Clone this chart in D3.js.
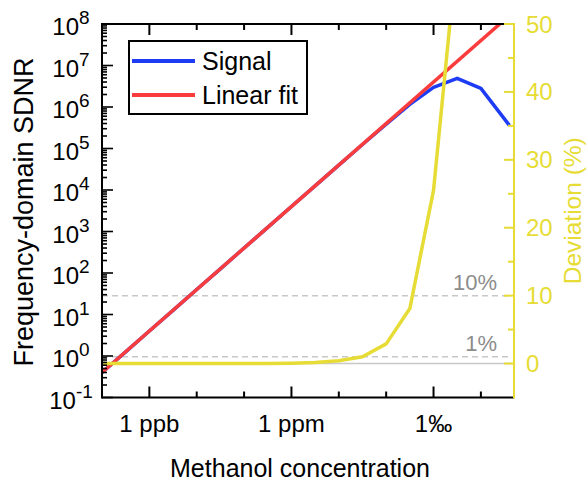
<!DOCTYPE html>
<html lang="en">
<head>
    <meta charset="UTF-8">
    <title>SDNR vs methanol concentration</title>
    <script src="https://d3js.org/d3.v7.min.js"></script>
    <style>
        body { margin: 0; background: #fff; }
        svg { display: block; font-family: "Liberation Sans", Arial, sans-serif; }
    </style>
</head>
<body>
    <div id="graph"></div>
    <script>
        // data
        const concentration = [1e-10, 3.16e-10, 1e-9, 3.16e-9, 1e-8, 3.16e-8, 1e-7, 3.16e-7, 1e-6,
            3.16e-6, 1e-5, 3.16e-5, 1e-4, 3.16e-4, 1e-3, 3.16e-3, 1e-2, 4e-2]
        const signal = [0.4, 1.26, 4, 12.6, 40, 126, 400, 1260, 4000,
            12600, 39900, 125000, 388000, 1.16e6, 2.98e6, 4.9e6, 2.8e6, 3.6e5]
        const deviation = [0, 0, 0, 0, 0, 0, 0, 0, 0.05,
            0.15, 0.4, 1.0, 2.9, 8.1, 25.5, 61, 93, 99]
        const fitConcentration = [1e-10, 0.05]
        const fitValue = [0.4, 2e8]

        const xTickValues = [1e-9, 1e-6, 1e-3]
        const xTickLabels = ["1 ppb", "1 ppm", "1‰"]
        const yExponents = [-1, 0, 1, 2, 3, 4, 5, 6, 7, 8]
        const devTicks = [0, 10, 20, 30, 40, 50]
        const refLevels = [1, 10]
        const refLabels = ["1%", "10%"]
        const legendNames = ["Signal", "Linear fit"]

        const width = 588, height = 482
        const margin = {left: 102, right: 74, top: 24, bottom: 84.5}
        const blue = "#1f3cf5", red = "#fa3c3c", yellow = "#e6dc35", grey = "#c8c8c8"

        var svg = d3.select("#graph").append("svg")
            .attr("width", width)
            .attr("height", height)

        var x = d3.scaleLog()
            .domain([1e-10, 0.05])
            .range([margin.left, width - margin.right])

        var y = d3.scaleLog()
            .domain([0.1, 1e8])
            .range([height - margin.bottom, margin.top])

        var y2 = d3.scaleLinear()
            .domain([-5, 50])
            .range([height - margin.bottom, margin.top])

        const x0 = x.range()[0], x1 = x.range()[1]
        const yb = y.range()[0], yt = y.range()[1]

        svg.append("clipPath").attr("id", "plot-clip")
            .append("rect")
                .attr("x", x0).attr("y", yt)
                .attr("width", x1 - x0).attr("height", yb - yt)

        // reference lines for the deviation axis
        svg.append("line")
            .attr("x1", x0).attr("x2", x1 - 2)
            .attr("y1", y2(0)).attr("y2", y2(0))
            .attr("stroke", grey).attr("stroke-width", 1.5)

        svg.selectAll("line.ref").data(refLevels).enter()
            .append("line")
                .attr("class", "ref")
                .attr("x1", x0).attr("x2", x1 - 2)
                .attr("y1", d => y2(d)).attr("y2", d => y2(d))
                .attr("stroke", grey).attr("stroke-width", 1.5)
                .attr("stroke-dasharray", "6,4")

        svg.selectAll("text.ref").data(refLevels).enter()
            .append("text")
                .attr("class", "ref")
                .attr("x", 497)
                .attr("y", d => y2(d) - 6)
                .attr("text-anchor", "end")
                .attr("fill", "#8c8c8c")
                .style("font-size", "22px")
                .text((d, i) => refLabels[i])

        var plot = svg.append("g").attr("clip-path", "url(#plot-clip)")

        var logLine = d3.line()
            .x(d => x(d[0]))
            .y(d => y(d[1]))

        plot.append("path")
            .datum(concentration.map((c, i) => [c, signal[i]]))
            .attr("d", logLine)
            .attr("fill", "none").attr("stroke", blue)
            .attr("stroke-width", 3.5).attr("stroke-linejoin", "round")

        plot.append("path")
            .datum(fitConcentration.map((c, i) => [c, fitValue[i]]))
            .attr("d", logLine)
            .attr("fill", "none").attr("stroke", red)
            .attr("stroke-width", 3.5)

        plot.append("path")
            .datum(concentration.map((c, i) => [c, deviation[i]]))
            .attr("d", d3.line().x(d => x(d[0])).y(d => y2(d[1])))
            .attr("fill", "none").attr("stroke", yellow)
            .attr("stroke-width", 3.5).attr("stroke-linejoin", "round")

        // x ticks, inward on bottom and top
        var xDecades = x.ticks().filter(d => Number.isInteger(Math.round(Math.log10(d) * 1000) / 1000))
        xDecades = xDecades.filter(d => d > 1.5e-10)
        const isMajorX = d => xTickValues.some(v => Math.abs(Math.log10(v) - Math.log10(d)) < 1e-6)

        svg.selectAll("line.xtick").data(xDecades).enter()
            .append("line")
                .attr("x1", d => x(d)).attr("x2", d => x(d))
                .attr("y1", yb).attr("y2", d => yb - (isMajorX(d) ? 11 : 6))
                .attr("stroke", "#000").attr("stroke-width", 2)

        svg.selectAll("line.xtickTop").data(xDecades).enter()
            .append("line")
                .attr("x1", d => x(d)).attr("x2", d => x(d))
                .attr("y1", yt).attr("y2", d => yt + (isMajorX(d) ? 11 : 6))
                .attr("stroke", "#000").attr("stroke-width", 2)

        svg.selectAll("text.xlabel").data(xTickValues).enter()
            .append("text")
                .attr("x", d => x(d))
                .attr("y", yb + 34)
                .attr("text-anchor", "middle")
                .style("font-size", "24px")
                .text((d, i) => xTickLabels[i])

        // y ticks (log, with minor ticks)
        var yTicks = y.ticks()
        svg.selectAll("line.ytick").data(yTicks).enter()
            .append("line")
                .attr("x1", x0)
                .attr("x2", d => x0 + (Number.isInteger(Math.round(Math.log10(d) * 1e6) / 1e6) ? 11 : 5))
                .attr("y1", d => y(d)).attr("y2", d => y(d))
                .attr("stroke", "#000").attr("stroke-width", 1.6)

        var ylab = svg.selectAll("text.ylabel").data(yExponents).enter()
            .append("text")
                .attr("x", 71)
                .attr("y", d => y(Math.pow(10, d)) + 11)
                .attr("text-anchor", "middle")
                .style("font-size", "24px")
        ylab.append("tspan").text("10")
        ylab.append("tspan")
            .attr("dy", -11)
            .style("font-size", "19px")
            .text(d => d)

        // frame
        svg.append("line")
            .attr("x1", x0).attr("x2", x1).attr("y1", yt).attr("y2", yt)
            .attr("stroke", "#000").attr("stroke-width", 2)
        svg.append("line")
            .attr("x1", x0).attr("x2", x1).attr("y1", yb).attr("y2", yb)
            .attr("stroke", "#000").attr("stroke-width", 2)
        svg.append("line")
            .attr("x1", x0).attr("x2", x0).attr("y1", yt - 1).attr("y2", yb + 1)
            .attr("stroke", "#000").attr("stroke-width", 2)

        // right deviation axis
        svg.append("line")
            .attr("x1", x1).attr("x2", x1).attr("y1", yt - 1).attr("y2", yb + 1)
            .attr("stroke", yellow).attr("stroke-width", 2)

        var devMinor = d3.range(5, 50, 10)
        svg.selectAll("line.devminor").data(devMinor).enter()
            .append("line")
                .attr("x1", x1).attr("x2", x1 - 6)
                .attr("y1", d => y2(d)).attr("y2", d => y2(d))
                .attr("stroke", yellow).attr("stroke-width", 2)
        svg.selectAll("line.devmajor").data(devTicks).enter()
            .append("line")
                .attr("x1", x1).attr("x2", x1 - 10)
                .attr("y1", d => y2(d)).attr("y2", d => y2(d))
                .attr("stroke", yellow).attr("stroke-width", 2)
        svg.selectAll("text.devlabel").data(devTicks).enter()
            .append("text")
                .attr("x", x1 + 12)
                .attr("y", d => y2(d) + 8.5)
                .attr("fill", yellow)
                .style("font-size", "24px")
                .text(d => d)

        // axis titles
        svg.append("text")
            .attr("x", 300).attr("y", 477)
            .attr("text-anchor", "middle")
            .style("font-size", "25px")
            .text("Methanol concentration")

        svg.append("text")
            .attr("transform", "translate(33,212) rotate(-90)")
            .attr("text-anchor", "middle")
            .style("font-size", "27px")
            .text("Frequency-domain SDNR")

        svg.append("text")
            .attr("transform", "translate(581," + (yt + yb) / 2 + ") rotate(-90)")
            .attr("text-anchor", "middle")
            .attr("fill", yellow)
            .style("font-size", "24.5px")
            .text("Deviation (%)")

        // legend
        var legend = svg.append("g")
        legend.append("rect")
            .attr("x", 129).attr("y", 41)
            .attr("width", 178).attr("height", 73)
            .attr("fill", "#fff").attr("stroke", "#000").attr("stroke-width", 2)
        legend.selectAll("line").data(legendNames).enter()
            .append("line")
                .attr("x1", 132).attr("x2", 195)
                .attr("y1", (d, i) => 61 + i * 34).attr("y2", (d, i) => 61 + i * 34)
                .attr("stroke", (d, i) => i === 0 ? blue : red)
                .attr("stroke-width", 4)
        legend.selectAll("text").data(legendNames).enter()
            .append("text")
                .attr("x", 202)
                .attr("y", (d, i) => 70 + i * 34)
                .style("font-size", "25px")
                .text(d => d)
    </script>
</body>
</html>
